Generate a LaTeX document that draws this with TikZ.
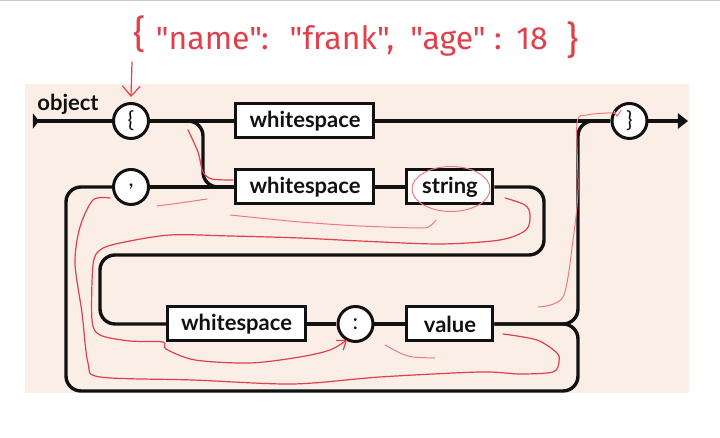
\documentclass[tikz,border=0pt]{standalone}
\usepackage{fontspec}
\setmainfont{Lato}
\newfontfamily\handfont{Fira Sans}
\usetikzlibrary{arrows.meta}
\definecolor{ink}{HTML}{111111}
\definecolor{paper}{HTML}{FBEEE6}
\definecolor{pen}{HTML}{E0404C}
\definecolor{penlight}{HTML}{EC7A82}
\definecolor{frame}{HTML}{C9C9C9}
\tikzset{
  every node/.style={text=ink},
  token/.style={circle,draw=ink,line width=1.5pt,fill=white,minimum size=17.5pt,inner sep=0pt,font=\fontsize{11}{12}\selectfont},
  term/.style={draw=ink,line width=1.5pt,fill=white,minimum height=17pt,inner sep=0pt,font=\bfseries\fontsize{11}{13}\selectfont},
  wide/.style={term,minimum width=69pt},
  narrow/.style={term,minimum width=43pt},
  rail/.style={draw=ink,line width=1.7pt,rounded corners=7.5pt},
  hand/.style={text=pen,font=\handfont\fontsize{16}{18}\selectfont,inner sep=0pt,anchor=base},
  bigbrace/.style={hand,font=\handfont\fontsize{19}{22}\selectfont},
  trace/.style={draw=pen,line width=0.6pt,line cap=round,line join=round},
  faint/.style={trace,draw=penlight,line width=0.5pt}
}
\begin{document}
\begin{tikzpicture}[x=0.5pt,y=0.5pt]
  \useasboundingbox (0,0) rectangle (720,438);
  \fill[frame] (0,436.5) rectangle (720,438);
  \fill[paper] (25,45) rectangle (689,354);

  \node[font=\bfseries\fontsize{11}{13}\selectfont] (title) at (68,334) {object};
  \node[token] (lbrace) at (131,317) {\{};
  \node[wide] (ws1) at (305,317) {whitespace};
  \node[token] (rbrace) at (629.5,317) {\}};
  \node[token] (comma) at (131,251) {,};
  \node[wide] (ws2) at (305,251) {whitespace};
  \node[narrow] (str) at (450,251) {string};
  \node[wide] (ws3) at (236.5,114) {whitespace};
  \node[token] (colon) at (355.5,114) {:};
  \node[narrow] (val) at (450,114) {value};

  \coordinate (start) at (33,317);
  \coordinate (finish) at (688,317);
  \coordinate (split) at (203,251);
  \coordinate (rturn) at (544,183);
  \coordinate (lturn) at (100,183);
  \coordinate (up) at (578,317);
  \coordinate (down) at (578,47);
  \coordinate (back) at (66,47);

  \draw[rail,{Triangle[reversed,length=3pt,width=7.5pt]}-] (start) -- (lbrace);
  \draw[rail] (lbrace) -- (ws1);
  \draw[rail] (ws1) -- (rbrace);
  \draw[rail,-{Triangle[length=5pt,width=7.5pt]}] (rbrace) -- (finish);
  \draw[rail] (lbrace.east) -| (split) -- (ws2.west);
  \draw[rail] (comma) -- (ws2);
  \draw[rail] (ws2) -- (str);
  \draw[rail] (str.east) -| (rturn) -- (lturn) |- (ws3.west);
  \draw[rail] (ws3) -- (colon);
  \draw[rail] (colon) -- (val);
  \draw[rail] (val.east) -| (up) -- (rbrace.west);
  \draw[rail] (val.east) -| (down) -- (back) |- (comma.west);

  \node[bigbrace] (hopen) at (140,390) {\{};
  \node[hand] (hname) at (209,388) {"name"};
  \node[hand] (hcolon1) at (265,388) {:};
  \node[hand] (hfrank) at (342,388) {"frank",};
  \node[hand] (hage) at (448,388) {"age"};
  \node[hand] (hcolon2) at (498,388) {:};
  \node[hand] (hnum) at (532,388) {18};
  \node[bigbrace] (hclose) at (573,384) {\}};
  \coordinate (cue) at (132,376);
  \draw[trace,-{Straight Barb[length=5pt,width=9pt]}] (cue) -- ([yshift=2.5pt]lbrace.north);

  \draw[trace] plot[smooth] coordinates {(188,308) (198,286) (203,266) (212,259) (233,258)};
  \draw[faint] plot[smooth] coordinates {(157,232) (180,235) (207,239)};
  \draw[faint] plot[smooth] coordinates {(230,223) (300,216) (360,212) (420,210) (430,212) (436,218)};
  \draw[faint] (451,249) ellipse[x radius=19.5pt,y radius=11.25pt];
  \draw[trace,-{Straight Barb[length=4pt,width=6pt]}] plot[smooth] coordinates {(505,240) (525,233) (530,223) (526,208) (500,198) (440,194) (360,197) (300,200) (230,202) (170,203) (120,195) (100,188) (93,173) (92,118) (100,103) (130,97) (163,96) (166,89) (195,78) (250,75) (300,81) (330,88) (347,98)};
  \draw[trace] plot[smooth] coordinates {(503,104) (537,98) (557,85) (559,76) (553,66) (520,64) (480,66) (380,61) (293,54) (193,58) (100,61) (88,75) (82,125) (75,175) (80,211) (93,238) (110,240)};
  \draw[faint] plot[smooth] coordinates {(385,93) (400,85) (413,81) (435,80)};
  \draw[faint,-{Straight Barb[length=3pt,width=4pt]}] plot[smooth] coordinates {(538,131) (563,141) (573,198) (578,248) (577,315) (587,323) (613,325) (617,321)};
\end{tikzpicture}
\end{document}
